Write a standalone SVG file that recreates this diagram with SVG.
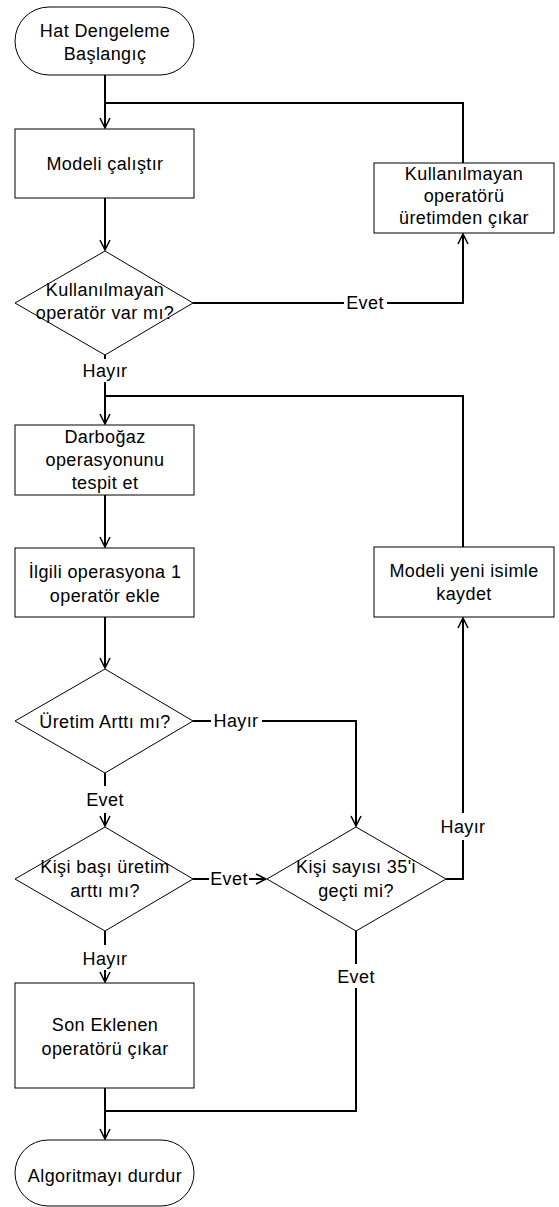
<svg xmlns="http://www.w3.org/2000/svg" width="559" height="1207" viewBox="0 0 559 1207">
<defs>
<style>
.s{fill:#fff;stroke:#000;stroke-width:1}
.c{fill:none;stroke:#000;stroke-width:2}
.t{font-family:"Liberation Sans",Arial,sans-serif;font-size:18px;letter-spacing:0.4px;fill:#000;text-anchor:middle}
.l{font-family:"Liberation Sans",Arial,sans-serif;font-size:18px;letter-spacing:0.4px;fill:#000;text-anchor:middle}
</style>
<marker id="a" viewBox="0 0 12 12" refX="11" refY="6" markerWidth="12" markerHeight="12" markerUnits="userSpaceOnUse" orient="auto">
<path d="M1,1 L11,6 L1,11" fill="none" stroke="#000" stroke-width="1.5"/>
</marker>
</defs>
<rect width="559" height="1207" fill="#fff"/>
<g id="connectors">
<path class="c" d="M105,75 V128" marker-end="url(#a)"/>
<path class="c" d="M463,163 V103 H105"/>
<path class="c" d="M105,198 V250" marker-end="url(#a)"/>
<path class="c" d="M193,303 H344 M387,303 H463 V234" marker-end="url(#a)"/>
<path class="c" d="M105,355 V359 M105,382 V424" marker-end="url(#a)"/>
<path class="c" d="M463,547 V396 H105"/>
<path class="c" d="M105,495 V547" marker-end="url(#a)"/>
<path class="c" d="M105,617 V668" marker-end="url(#a)"/>
<path class="c" d="M193,721 H211 M262,721 H356 V826" marker-end="url(#a)"/>
<path class="c" d="M105,773 V786 M105,813 V826" marker-end="url(#a)"/>
<path class="c" d="M193,879 H209 M249,879 H266" marker-end="url(#a)"/>
<path class="c" d="M446,879 H463 V840 M463,813 V618" marker-end="url(#a)"/>
<path class="c" d="M105,931 V945 M105,970 V982" marker-end="url(#a)"/>
<path class="c" d="M356,931 V964 M356,988 V1111 H105"/>
<path class="c" d="M105,1088 V1139" marker-end="url(#a)"/>
<text class="l" x="365" y="309">Evet</text>
<text class="l" x="105" y="377">Hayır</text>
<text class="l" x="236" y="727">Hayır</text>
<text class="l" x="105" y="806">Evet</text>
<text class="l" x="229" y="885">Evet</text>
<text class="l" x="463" y="833">Hayır</text>
<text class="l" x="105" y="965">Hayır</text>
<text class="l" x="356" y="983">Evet</text>
</g>
<g id="start">
<rect class="s" x="15" y="7" width="179" height="68" rx="34" ry="34"/>
<text class="t" x="105" y="37">Hat Dengeleme</text>
<text class="t" x="105" y="60">Başlangıç</text>
</g>
<g id="run">
<rect class="s" x="15" y="129" width="179" height="69"/>
<text class="t" x="105" y="170">Modeli çalıştır</text>
</g>
<g id="remove">
<rect class="s" x="374" y="163" width="180" height="70"/>
<text class="t" x="464" y="180">Kullanılmayan</text>
<text class="t" x="464" y="202">operatörü</text>
<text class="t" x="464" y="224">üretimden çıkar</text>
</g>
<g id="dec1">
<polygon class="s" points="105,251 193,303 105,355 15,303"/>
<text class="t" x="105" y="296">Kullanılmayan</text>
<text class="t" x="105" y="319">operatör var mı?</text>
</g>
<g id="bottleneck">
<rect class="s" x="15" y="425" width="179" height="70"/>
<text class="t" x="105" y="443">Darboğaz</text>
<text class="t" x="105" y="466">operasyonunu</text>
<text class="t" x="105" y="489">tespit et</text>
</g>
<g id="add">
<rect class="s" x="15" y="548" width="179" height="69"/>
<text class="t" x="105" y="578">İlgili operasyona 1</text>
<text class="t" x="105" y="602">operatör ekle</text>
</g>
<g id="save">
<rect class="s" x="374" y="547" width="180" height="70"/>
<text class="t" x="464" y="577">Modeli yeni isimle</text>
<text class="t" x="464" y="600">kaydet</text>
</g>
<g id="dec2">
<polygon class="s" points="105,669 193,721 105,773 15,721"/>
<text class="t" x="105" y="728">Üretim Arttı mı?</text>
</g>
<g id="dec3">
<polygon class="s" points="105,827 193,879 105,931 15,879"/>
<text class="t" x="105" y="873">Kişi başı üretim</text>
<text class="t" x="105" y="897">arttı mı?</text>
</g>
<g id="dec4">
<polygon class="s" points="356,827 446,879 356,931 267,879"/>
<text class="t" x="356" y="873">Kişi sayısı 35'i</text>
<text class="t" x="356" y="897">geçti mi?</text>
</g>
<g id="undo">
<rect class="s" x="15" y="983" width="179" height="105"/>
<text class="t" x="105" y="1031">Son Eklenen</text>
<text class="t" x="105" y="1055">operatörü çıkar</text>
</g>
<g id="stop">
<rect class="s" x="15" y="1140" width="179" height="66" rx="33" ry="33"/>
<text class="t" x="105" y="1182">Algoritmayı durdur</text>
</g>
</svg>
